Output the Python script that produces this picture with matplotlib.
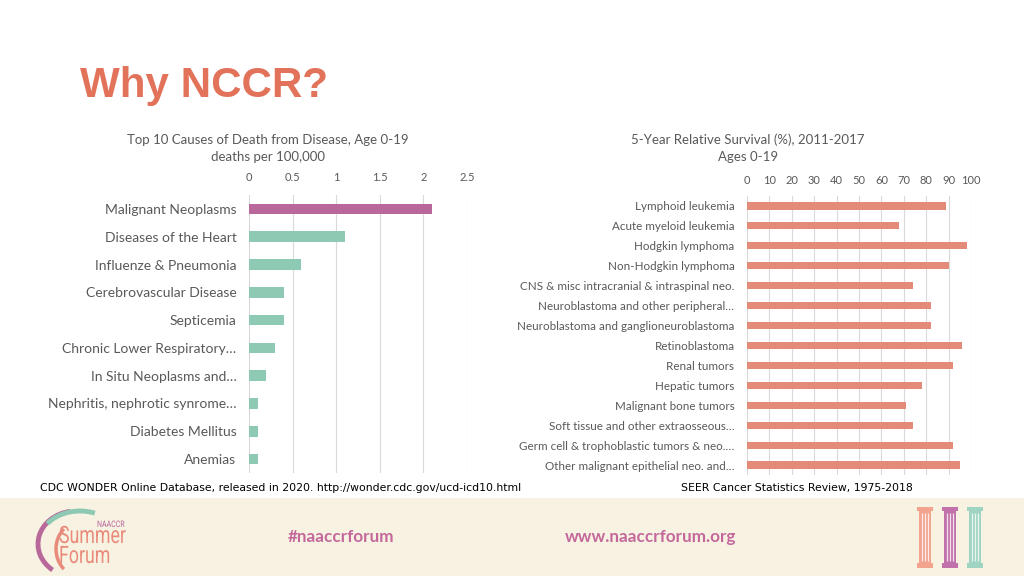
import numpy as np
import matplotlib.pyplot as plt
from matplotlib.patches import Rectangle, Arc, PathPatch
from matplotlib.textpath import TextPath
from matplotlib.font_manager import FontProperties
from matplotlib.transforms import Affine2D

# left chart: top 10 causes of death, age 0-19 (deaths per 100,000)
causes = ['Malignant Neoplasms', 'Diseases of the Heart', 'Influenze & Pneumonia',
          'Cerebrovascular Disease', 'Septicemia', 'Chronic Lower Respiratory…',
          'In Situ Neoplasms and…', 'Nephritis, nephrotic synrome…',
          'Diabetes Mellitus', 'Anemias']
death_rates = [2.1, 1.1, 0.6, 0.4, 0.4, 0.3, 0.2, 0.1, 0.1, 0.1]
death_ticks = [0, 0.5, 1, 1.5, 2, 2.5]
death_tick_labels = ['0', '0.5', '1', '1.5', '2', '2.5']

# right chart: 5-year relative survival (%), 2011-2017, ages 0-19
cancers = ['Lymphoid leukemia', 'Acute myeloid leukemia', 'Hodgkin lymphoma',
           'Non-Hodgkin lymphoma', 'CNS & misc intracranial & intraspinal neo.',
           'Neuroblastoma and other peripheral…', 'Neuroblastoma and ganglioneuroblastoma',
           'Retinoblastoma', 'Renal tumors', 'Hepatic tumors', 'Malignant bone tumors',
           'Soft tissue and other extraosseous…', 'Germ cell & trophoblastic tumors & neo.…',
           'Other malignant epithelial neo. and…']
survival = [89, 68, 98, 90, 74, 82, 82, 96, 92, 78, 71, 74, 92, 95]
survival_ticks = [0, 10, 20, 30, 40, 50, 60, 70, 80, 90, 100]

CORAL = '#E2735A'
PURPLE = '#B8689B'
TEAL = '#8EC9B4'
SALMON = '#E38A78'
GRID = '#D9D9D9'
TXT = '#595959'
BAND = '#F8F2E2'
FOOT = '#C4689C'

fig = plt.figure(figsize=(10.24, 5.76), dpi=100)
fig.patch.set_facecolor('white')

# background layer in pixel coords for the footer band, logo and pillars
lax = fig.add_axes([0, 0, 1, 1], facecolor='none', zorder=-1)
lax.set_xlim(0, 1024)
lax.set_ylim(576, 0)
lax.axis('off')
lax.add_patch(Rectangle((0, 498), 1024, 78, facecolor=BAND, edgecolor='none'))

fig.text(80 / 1024, 1 - 86 / 576, 'Why NCCR?', fontsize=30.3, fontweight='bold',
         color=CORAL, family='Liberation Sans', va='center', ha='left')

label_font = 'Lato'

# ---- left chart
ax1 = fig.add_axes([249 / 1024, 1 - 473 / 576, 218 / 1024, 278 / 576])
y1 = np.arange(len(causes))
colors1 = [PURPLE] + [TEAL] * (len(causes) - 1)
ax1.barh(y1, death_rates, height=0.38, color=colors1, zorder=3)
ax1.set_xlim(0, 2.5)
ax1.set_ylim(len(causes) - 0.5, -0.5)
ax1.set_xticks(death_ticks)
ax1.set_xticklabels(death_tick_labels, fontsize=8, color=TXT, family=label_font)
ax1.xaxis.tick_top()
ax1.set_yticks(y1)
ax1.set_yticklabels(causes, fontsize=10, color=TXT, family=label_font)
ax1.tick_params(length=0, pad=9)
ax1.grid(axis='x', color=GRID, linewidth=0.8, zorder=0)
for s in ax1.spines.values():
    s.set_visible(False)

fig.text(268 / 1024, 1 - 140 / 576, 'Top 10 Causes of Death from Disease, Age 0-19',
         fontsize=9.5, color=TXT, family=label_font, ha='center', va='center')
fig.text(268 / 1024, 1 - 157 / 576, 'deaths per 100,000',
         fontsize=9.5, color=TXT, family=label_font, ha='center', va='center')

# ---- right chart
ax2 = fig.add_axes([747 / 1024, 1 - 475 / 576, 224 / 1024, 279 / 576])
y2 = np.arange(len(cancers))
ax2.barh(y2, survival, height=0.36, color=SALMON, zorder=3)
ax2.set_xlim(0, 100)
ax2.set_ylim(len(cancers) - 0.5, -0.5)
ax2.set_xticks(survival_ticks)
ax2.set_xticklabels([str(t) for t in survival_ticks], fontsize=8, color=TXT, family=label_font)
ax2.xaxis.tick_top()
ax2.set_yticks(y2)
ax2.set_yticklabels(cancers, fontsize=8.4, color=TXT, family=label_font)
ax2.tick_params(length=0, pad=9)
ax2.tick_params(axis='x', pad=7)
ax2.grid(axis='x', color=GRID, linewidth=0.8, zorder=0)
for s in ax2.spines.values():
    s.set_visible(False)

fig.text(748 / 1024, 1 - 140 / 576, '5-Year Relative Survival (%), 2011-2017',
         fontsize=9.5, color=TXT, family=label_font, ha='center', va='center')
fig.text(748 / 1024, 1 - 157 / 576, 'Ages 0-19',
         fontsize=9.5, color=TXT, family=label_font, ha='center', va='center')

# sources
fig.text(40 / 1024, 1 - 488 / 576,
         'CDC WONDER Online Database, released in 2020. http://wonder.cdc.gov/ucd-icd10.html',
         fontsize=7.8, color='black', family='DejaVu Sans', ha='left', va='center')
fig.text(681 / 1024, 1 - 488 / 576, 'SEER Cancer Statistics Review, 1975-2018',
         fontsize=7.8, color='black', family='DejaVu Sans', ha='left', va='center')

# footer text
fig.text(288 / 1024, 1 - 537 / 576, '#naaccrforum', fontsize=12.3, color=FOOT,
         family=label_font, fontweight='bold', ha='left', va='center')
fig.text(565 / 1024, 1 - 537 / 576, 'www.naaccrforum.org', fontsize=12.3, color=FOOT,
         family=label_font, fontweight='bold', ha='left', va='center')


# logo: arcs (angles given visually, y axis of lax is flipped)
def arc(cx, cy, w, h, a, b, color, lw):
    lax.add_patch(Arc((cx, cy), w, h, theta1=-b, theta2=-a, color=color, linewidth=lw))


arc(76, 544, 76, 66, 100, 228, PURPLE, 3.5)
arc(80, 541, 80, 60, 62, 152, TEAL, 3.5)
arc(82, 549, 52, 56, 132, 228, '#E98B7A', 2.5)


def condensed(s, x, y, size, sx, color):
    tp = TextPath((0, 0), s, size=size, prop=FontProperties(family='Roboto'))
    tr = Affine2D().scale(sx, -1) + Affine2D().translate(x, y)
    lax.add_patch(PathPatch(tr.transform_path(tp), facecolor=color, edgecolor='none'))


condensed('NAACCR', 97, 527, 9, 0.78, PURPLE)
condensed('Summer', 59, 543, 24, 0.74, '#E98B7A')
condensed('Forum', 59, 563, 24, 0.74, '#E98B7A')

# pillars
for x0, c in [(917, '#F2A48F'), (942, '#C272AA'), (967, '#9FD4C2')]:
    lax.add_patch(Rectangle((x0, 507), 16, 4, facecolor=c, edgecolor='none'))
    lax.add_patch(Rectangle((x0 + 2, 511), 12, 52, facecolor=c, edgecolor='none'))
    lax.add_patch(Rectangle((x0, 563), 16, 5, facecolor=c, edgecolor='none'))
    lax.vlines([x0 + 5, x0 + 8, x0 + 11], 513, 561, colors='white', linewidth=0.9, alpha=0.8)

fig.savefig('out.png', dpi=100, facecolor=fig.get_facecolor())
